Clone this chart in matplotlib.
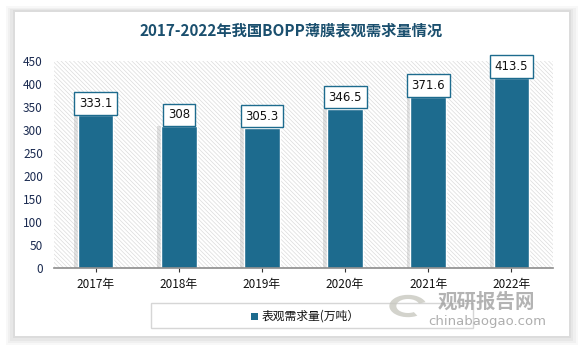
import matplotlib.pyplot as plt
from matplotlib.patches import Rectangle, Wedge

plt.rcParams['font.family'] = ['Noto Sans CJK SC', 'DejaVu Sans']

years = ['2017年', '2018年', '2019年', '2020年', '2021年', '2022年']
demand = [333.1, 308, 305.3, 346.5, 371.6, 413.5]
value_labels = ['333.1', '308', '305.3', '346.5', '371.6', '413.5']

BAR = '#1d6b8e'
TITLE = '#1a4f6e'


def main():
    """Draw the bar chart."""
    fig = plt.figure(figsize=(5.83, 3.49), dpi=100)
    fig.patch.set_facecolor('white')

    # card with soft shadow
    for i, a in enumerate([0.05, 0.06, 0.08, 0.10]):
        pad = (4 - i) * 0.004
        fig.patches.append(Rectangle((0.0257 - pad, 0.037 - pad * 1.6),
                                     0.950 + 2 * pad, 0.929 + 2.6 * pad,
                                     transform=fig.transFigure,
                                     facecolor='#808080', alpha=a,
                                     edgecolor='none', zorder=0))
    fig.patches.append(Rectangle((0.0257, 0.037), 0.950, 0.929,
                                 transform=fig.transFigure,
                                 facecolor='white', edgecolor='none',
                                 zorder=1))

    fig.text(0.5, 0.912, '2017-2022年我国BOPP薄膜表观需求量情况',
             ha='center', va='center', fontsize=11, fontweight='bold',
             color=TITLE, zorder=3)

    ax = fig.add_axes([0.0926, 0.232, 0.856, 0.593])
    ax.set_facecolor('white')
    ax.set_zorder(2)
    plt.rcParams['hatch.linewidth'] = 0.5
    # hatched plot background
    ax.add_patch(Rectangle((0, 0), 1, 1, transform=ax.transAxes,
                           facecolor='white', edgecolor='#dcdcdc',
                           linewidth=0, hatch='\\' * 8, zorder=0))

    x = range(len(years))
    # bar shadows
    ax.bar([i - 0.03 for i in x], demand, width=0.46,
           color='#a0a0a0', alpha=0.3, zorder=1)
    ax.bar(x, demand, width=0.43, color=BAR, edgecolor='white',
           linewidth=1.0, zorder=2)

    for i, (v, s) in enumerate(zip(demand, value_labels)):
        ax.text(i, v + 11, s, ha='center', va='bottom', fontsize=8.5,
                family=['DejaVu Sans'], color='#111111', zorder=4,
                bbox=dict(boxstyle='square,pad=0.4', facecolor='white',
                          edgecolor=BAR, linewidth=1.0))

    ax.set_xlim(-0.5, len(years) - 0.5)
    ax.set_ylim(0, 450)
    ax.set_yticks(range(0, 451, 50))
    ax.set_xticks(list(x))
    ax.set_xticklabels(years, fontsize=8.5, color='#111111')
    ax.tick_params(axis='y', length=0, labelsize=8.5, pad=8,
                   labelcolor='#1a2a50')
    ax.tick_params(axis='x', length=3, color='#333333', pad=4)
    for sp in ['top', 'right', 'left']:
        ax.spines[sp].set_visible(False)
    ax.spines['bottom'].set_color('#8c8c8c')
    ax.spines['bottom'].set_linewidth(1.2)

    # legend box
    fig.patches.append(Rectangle((151 / 583, 1 - 328 / 349), 322 / 583,
                                 25 / 349, transform=fig.transFigure,
                                 facecolor='white', edgecolor='#d6d6d6',
                                 linewidth=1.0, zorder=3))
    fig.patches.append(Rectangle((251 / 583, 1 - 320 / 349), 7 / 583,
                                 7 / 349, transform=fig.transFigure,
                                 facecolor=BAR, edgecolor='none', zorder=4))
    fig.text(262 / 583, 1 - 316 / 349, '表观需求量(万吨）', ha='left',
             va='center', fontsize=8.5, color='#111111', zorder=4)

    # watermark
    fig.patches.append(Wedge((408 / 583, 1 - 306 / 349), 0.032, 20, 300,
                             width=0.012, transform=fig.transFigure,
                             facecolor='#c8c8c0', edgecolor='none',
                             alpha=0.8, zorder=5))
    fig.text(438 / 583, 1 - 302 / 349, '观研报告网', ha='left', va='center',
             fontsize=14, fontweight='bold', color='#9a9a9a', alpha=0.75,
             zorder=5)
    fig.text(428 / 583, 1 - 321 / 349, 'chinabaogao.com', ha='left',
             va='center', fontsize=9.5, color='#9a9a9a', alpha=0.8,
             family=['DejaVu Sans'], zorder=5)

    fig.savefig('out.png', dpi=100)


if __name__ == "__main__":
    main()
